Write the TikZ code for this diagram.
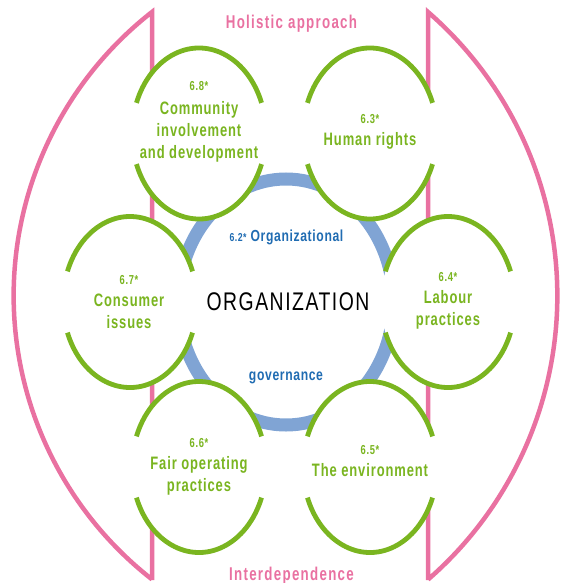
\documentclass[tikz,border=0pt]{standalone}
\usepackage{fontspec}
\setmainfont{Liberation Sans}
\newfontfamily\greenfont{Liberation Sans}[FakeStretch=0.72, LetterSpace=5]
\newfontfamily\orgfont{Liberation Sans}[FakeStretch=0.76, LetterSpace=6]
\newfontfamily\bluefont{Liberation Sans}[FakeStretch=0.76, LetterSpace=4]
\newfontfamily\titlefont{Liberation Sans}[FakeStretch=0.72, LetterSpace=7]
\usetikzlibrary{shapes.geometric}

\definecolor{isogreen}{RGB}{122,181,32}
\definecolor{isopink}{RGB}{233,113,161}
\definecolor{ringblue}{RGB}{128,164,212}
\definecolor{textblue}{RGB}{32,108,178}

\tikzset{
  frame/.style={draw=isopink, line width=4.5pt, line join=miter},
  govring/.style={ellipse, draw=ringblue, line width=13pt, inner sep=0pt,
    minimum width=215pt, minimum height=246pt},
  issuefill/.style={ellipse, fill=white, inner sep=0pt,
    minimum width=134pt, minimum height=171pt},
  issuearc/.style={draw=isogreen, line width=4.8pt},
  numtext/.style={font=\greenfont\bfseries\fontsize{13}{15}\selectfont,
    text=isogreen, anchor=base, inner sep=0pt},
  topictext/.style={font=\greenfont\bfseries\fontsize{18}{22}\selectfont,
    text=isogreen, anchor=base, inner sep=0pt},
  orgtext/.style={font=\orgfont\fontsize{25.5}{30}\selectfont,
    text=black, anchor=base, inner sep=0pt},
  govtext/.style={font=\bluefont\bfseries\fontsize{16}{19}\selectfont,
    text=textblue, anchor=base, inner sep=0pt},
  titletext/.style={font=\titlefont\bfseries\fontsize{18.5}{22}\selectfont,
    text=isopink, anchor=base, inner sep=0pt}
}

% the two open arcs of one core-subject ellipse
\newcommand\subjectarcs[1]{%
  \draw[issuearc] ([shift={(21:67pt and 85.5pt)}]#1.center)
    arc[start angle=21, end angle=159, x radius=67pt, y radius=85.5pt];
  \draw[issuearc] ([shift={(201:67pt and 85.5pt)}]#1.center)
    arc[start angle=201, end angle=339, x radius=67pt, y radius=85.5pt];
}

\begin{document}
\begin{tikzpicture}[x=1pt, y=-1pt]
\useasboundingbox (0,0) rectangle (562,583);

% outer brackets: holistic approach / interdependence
\draw[frame] (152,580) -- (152,12) arc[start angle=128, end angle=232, radius=360pt] -- cycle;
\draw[frame] (428,580) -- (428,12) arc[start angle=49, end angle=-49, radius=376pt] -- cycle;

% organizational governance ring
\node[govring] (gov) at (286,302) {};

% core subjects: white ellipses
\node[issuefill] (community) at (199,133.5) {};
\node[issuefill] (human)     at (370,133.5) {};
\node[issuefill] (consumer)  at (130,302) {};
\node[issuefill] (labour)    at (448,302) {};
\node[issuefill] (fair)      at (199,467) {};
\node[issuefill] (environ)   at (370,467) {};

\subjectarcs{community}
\subjectarcs{human}
\subjectarcs{consumer}
\subjectarcs{labour}
\subjectarcs{fair}
\subjectarcs{environ}

% labels of the core subjects
\node[numtext]   (n68) at (199,91)  {6.8*};
\node[topictext] (t68a) at (199,114) {Community};
\node[topictext] (t68b) at (199,136) {involvement};
\node[topictext] (t68c) at (199,158) {and development};

\node[numtext]   (n63) at (370,124) {6.3*};
\node[topictext] (t63) at (370,146) {Human rights};

\node[numtext]   (n67) at (129,284) {6.7*};
\node[topictext] (t67a) at (129,306) {Consumer};
\node[topictext] (t67b) at (129,328) {issues};

\node[numtext]   (n64) at (448,281) {6.4*};
\node[topictext] (t64a) at (448,303) {Labour};
\node[topictext] (t64b) at (448,325) {practices};

\node[numtext]   (n66) at (199,447) {6.6*};
\node[topictext] (t66a) at (199,469) {Fair operating};
\node[topictext] (t66b) at (199,491) {practices};

\node[numtext]   (n65) at (370,454) {6.5*};
\node[topictext] (t65) at (370,476) {The environment};

% centre
\node[orgtext] (org) at (288,310) {ORGANIZATION};
\node[govtext] (govtop) at (286.5,241) {{\fontsize{11.5}{13}\selectfont 6.2*} Organizational};
\node[govtext] (govbot) at (286,380) {governance};

% titles
\node[titletext] (holistic) at (291.5,29) {Holistic approach};
\node[titletext] (interdep) at (291.5,580) {Interdependence};
\end{tikzpicture}
\end{document}
